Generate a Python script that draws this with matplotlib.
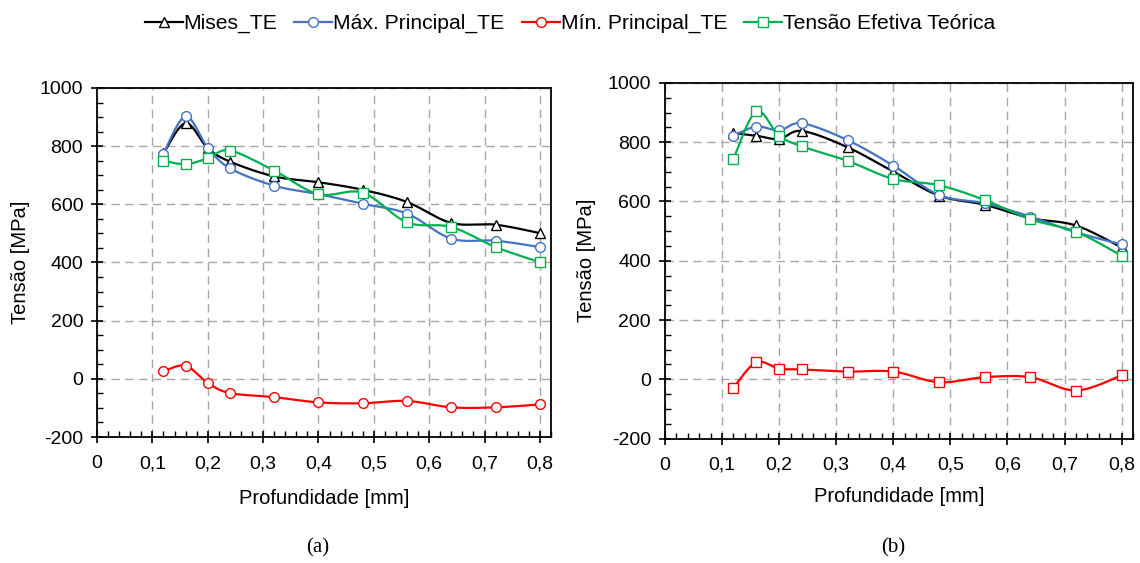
import numpy as np
import matplotlib.pyplot as plt
from matplotlib.ticker import MultipleLocator, FuncFormatter

plt.rcParams['font.family'] = ['Liberation Sans', 'DejaVu Sans']
plt.rcParams['axes.unicode_minus'] = False

# profundidade [mm]
depth = [0.12, 0.16, 0.2, 0.24, 0.32, 0.4, 0.48, 0.56, 0.64, 0.72, 0.8]

# (a)
mises_a = [775, 879, 793, 747, 696, 676, 650, 608, 536, 530, 501]
max_a = [774, 902, 795, 724, 664, 635, 602, 568, 482, 475, 453]
min_a = [26, 45, -14, -49, -63, -81, -84, -76, -98, -98, -88]
teo_a = [750, 738, 758, 785, 716, 635, 640, 538, 522, 453, 401]

# (b)
mises_b = [831, 822, 811, 838, 783, 701, 620, 589, 544, 519, 445]
max_b = [822, 853, 840, 864, 807, 721, 622, 594, 549, 496, 455]
min_b = [-28, 57, 36, 33, 26, 26, -10, 7, 7, -38, 13]
teo_b = [744, 904, 822, 786, 737, 676, 655, 605, 540, 498, 417]

labels = ['Mises_TE', 'Máx. Principal_TE', 'Mín. Principal_TE',
          'Tensão Efetiva Teórica']
colors = ['black', '#4472C4', '#FF0000', '#00B050']
markers = ['^', 'o', 'o', 's']


def smooth(x, y, sx=554.0, sy=0.29, n=24):
    """
    Excel-like smoothed line (Catmull-Rom bezier) in screen-ish space
    """
    p = np.column_stack([np.asarray(x) * sx, np.asarray(y) * sy])
    out = [p[0]]
    t = np.linspace(0, 1, n)[1:, None]
    for i in range(len(p) - 1):
        p0 = p[max(i - 1, 0)]
        p1, p2 = p[i], p[i + 1]
        p3 = p[min(i + 2, len(p) - 1)]
        b1 = p1 + (p2 - p0) / 6
        b2 = p2 - (p3 - p1) / 6
        seg = ((1 - t) ** 3) * p1 + 3 * ((1 - t) ** 2) * t * b1 \
            + 3 * (1 - t) * t ** 2 * b2 + t ** 3 * p2
        out.extend(seg)
    out = np.array(out)
    return out[:, 0] / sx, out[:, 1] / sy


def comma(v, pos):
    if abs(v) < 1e-9:
        return '0'
    return ('%.1f' % v).replace('.', ',')


def plot_panel(ax, series, min_marker):
    for k, (vals, lab, col) in enumerate(zip(series, labels, colors)):
        mk = markers[k] if k != 2 else min_marker
        xs, ys = smooth(depth, vals)
        ax.plot(xs, ys, color=col, linewidth=1.6, zorder=3 + k)
        ax.plot(depth, vals, linestyle='none', marker=mk, markersize=7,
                markerfacecolor='white', markeredgecolor=col,
                markeredgewidth=1.0, zorder=3 + k)
    ax.set_xlim(0, 0.82)
    ax.set_ylim(-200, 1000)
    ax.xaxis.set_major_locator(MultipleLocator(0.1))
    ax.xaxis.set_minor_locator(MultipleLocator(0.02))
    ax.yaxis.set_major_locator(MultipleLocator(200))
    ax.yaxis.set_minor_locator(MultipleLocator(50))
    ax.xaxis.set_major_formatter(FuncFormatter(comma))
    ax.grid(True, which='major', color='#A6A6A6', linestyle=(0, (6, 4)),
            linewidth=1.0, zorder=0)
    ax.tick_params(which='major', direction='inout', length=8, width=1.2,
                   labelsize=14, pad=6)
    ax.tick_params(axis='x', which='major', pad=9)
    ax.tick_params(which='minor', direction='in', length=4, width=1.0)
    for s in ax.spines.values():
        s.set_linewidth(1.3)
        s.set_color('black')
    ax.set_xlabel('Profundidade [mm]', fontsize=14.5)
    ax.set_ylabel('Tensão [MPa]', fontsize=14.5)


fig = plt.figure(figsize=(11.4, 5.63), dpi=100)
ax1 = fig.add_axes([0.0851, 0.2238, 0.3982, 0.6199])
ax2 = fig.add_axes([0.5833, 0.2211, 0.4106, 0.6315])

plot_panel(ax1, [mises_a, max_a, min_a, teo_a], 'o')
plot_panel(ax2, [mises_b, max_b, min_b, teo_b], 's')

ax1.xaxis.set_label_coords(0.5, -0.148)
ax2.xaxis.set_label_coords(0.5, -0.136)
ax1.yaxis.set_label_coords(-0.148, 0.5)
ax2.yaxis.set_label_coords(-0.147, 0.5)

handles = []
for k in range(4):
    h, = ax1.plot([], [], color=colors[k], marker=markers[k], markersize=7,
                  markerfacecolor='white', markeredgecolor=colors[k],
                  linewidth=1.6)
    handles.append(h)
fig.legend(handles, labels, loc='center', bbox_to_anchor=(0.5, 0.958),
           ncol=4, frameon=False, fontsize=15.2, handlelength=1.8,
           handletextpad=0.05, columnspacing=0.8)

fig.text(318 / 1140, 1 - 548 / 563, '(a)', ha='center', va='center',
         fontsize=15, family=['Liberation Serif', 'DejaVu Serif'])
fig.text(893 / 1140, 1 - 548 / 563, '(b)', ha='center', va='center',
         fontsize=15, family=['Liberation Serif', 'DejaVu Serif'])

fig.savefig('out.png', dpi=100)
